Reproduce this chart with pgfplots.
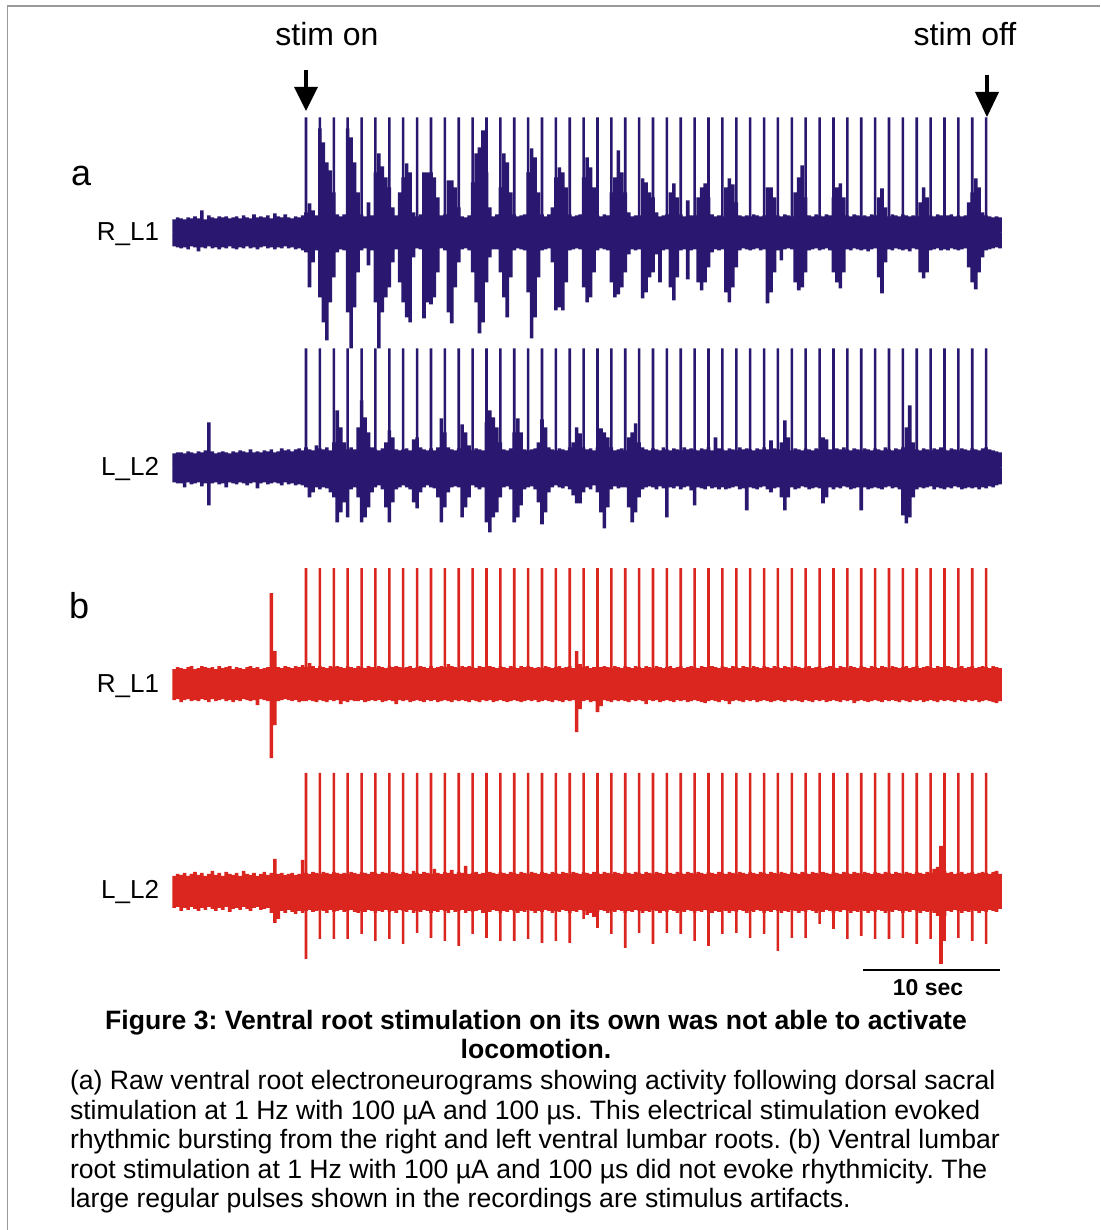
\documentclass[border=0pt]{standalone}
\usepackage{fontspec}
\setmainfont{Liberation Sans}
\usepackage{pgfplots}
\usepackage{pgfplotstable}
\pgfplotsset{compat=1.18}
\definecolor{navy}{RGB}{42,24,112}
\definecolor{rred}{RGB}{218,38,30}
\pgfplotsset{
 trace/.style={width=413.6pt,height=140pt,scale only axis,hide axis,clip=false,
   xmin=-9.6,xmax=50,ymin=-140,ymax=140,anchor=south west},
 env/.style={ybar,bar width=1.8pt,bar shift=0pt,draw=none,fill=#1},
 art/.style={ybar,bar width=1.3pt,bar shift=0pt,draw=none,fill=#1},
 core/.style={#1,line width=4pt},
}
% envelopes (max / min per 0.25 s bin, arbitrary units), t = -9.5 ... 50 s
\pgfplotstableread[row sep=\\]{u d\\
13 -14\\ 15 -15\\
14 -16\\ 13 -15\\ 15 -17\\ 14 -14\\
16 -15\\ 14 -19\\ 22 -15\\ 13 -16\\
17 -14\\ 15 -16\\ 14 -15\\ 16 -17\\
15 -15\\ 16 -16\\ 14 -14\\ 15 -16\\
16 -17\\ 14 -15\\ 17 -16\\ 15 -14\\
14 -16\\ 18 -15\\ 15 -17\\ 16 -15\\
15 -14\\ 17 -16\\ 14 -15\\ 19 -17\\
16 -15\\ 15 -16\\ 18 -14\\ 15 -16\\
14 -15\\ 16 -17\\ 15 -16\\ 17 -18\\
20 -20\\ 29 -55\\ 22 -30\\ 17 -18\\
104 -65\\ 90 -90\\ 70 -108\\ 62 -70\\
40 -45\\ 18 -20\\ 16 -17\\ 18 -18\\
104 -80\\ 95 -116\\ 70 -75\\ 40 -40\\
18 -18\\ 16 -16\\ 30 -33\\ 17 -18\\
60 -70\\ 79 -116\\ 66 -80\\ 55 -65\\
45 -55\\ 25 -30\\ 17 -17\\ 40 -50\\
55 -70\\ 69 -85\\ 60 -90\\ 20 -25\\
16 -16\\ 18 -17\\ 60 -86\\ 60 -70\\
60 -72\\ 55 -65\\ 35 -40\\ 17 -16\\
18 -18\\ 52 -80\\ 52 -91\\ 45 -55\\
25 -30\\ 16 -17\\ 15 -16\\ 17 -18\\
50 -40\\ 79 -70\\ 85 -101\\ 102 -90\\
60 -50\\ 25 -25\\ 16 -17\\ 18 -17\\
45 -40\\ 79 -65\\ 70 -85\\ 40 -45\\
18 -18\\ 16 -16\\ 17 -17\\ 18 -18\\
60 -60\\ 84 -106\\ 75 -85\\ 40 -45\\
18 -18\\ 16 -17\\ 18 -16\\ 25 -30\\
55 -78\\ 65 -75\\ 60 -78\\ 45 -50\\
18 -18\\ 16 -17\\ 17 -16\\ 18 -17\\
55 -55\\ 75 -70\\ 65 -65\\ 45 -40\\
17 -18\\ 16 -16\\ 18 -17\\ 17 -18\\
40 -50\\ 55 -65\\ 82 -62\\ 60 -55\\
40 -40\\ 20 -22\\ 16 -17\\ 17 -18\\
17 -17\\ 54 -66\\ 50 -60\\ 40 -45\\
35 -40\\ 20 -22\\ 16 -50\\ 17 -18\\
18 -17\\ 40 -55\\ 49 -68\\ 35 -45\\
18 -18\\ 16 -17\\ 32 -47\\ 17 -18\\
17 -17\\ 35 -50\\ 45 -58\\ 49 -50\\
35 -35\\ 18 -20\\ 16 -17\\ 17 -18\\
16 -17\\ 45 -60\\ 54 -70\\ 48 -55\\
30 -35\\ 17 -18\\ 16 -16\\ 17 -17\\
16 -18\\ 18 -17\\ 17 -16\\ 16 -18\\
17 -17\\ 45 -71\\ 45 -60\\ 35 -40\\
17 -18\\ 16 -28\\ 18 -17\\ 17 -16\\
16 -17\\ 40 -50\\ 55 -58\\ 67 -55\\
35 -40\\ 17 -18\\ 16 -17\\ 18 -16\\
17 -18\\ 16 -17\\ 18 -16\\ 17 -18\\
35 -40\\ 45 -50\\ 49 -56\\ 35 -40\\
17 -17\\ 16 -18\\ 18 -16\\ 17 -17\\
16 -18\\ 17 -17\\ 16 -19\\ 18 -17\\
17 -16\\ 35 -45\\ 44 -61\\ 25 -30\\
16 -17\\ 18 -18\\ 17 -16\\ 16 -17\\
18 -18\\ 17 -17\\ 16 -19\\ 17 -16\\
16 -17\\ 30 -40\\ 45 -46\\ 35 -40\\
17 -18\\ 16 -17\\ 18 -16\\ 17 -18\\
16 -17\\ 17 -18\\ 18 -16\\ 16 -17\\
17 -18\\ 16 -17\\ 17 -16\\ 30 -35\\
40 -50\\ 54 -57\\ 45 -40\\ 20 -25\\
17 -18\\ 16 -17\\ 15 -16\\ 16 -15\\
15 -16\\
}\tabaR
\pgfplotstableread[row sep=\\]{u d\\
14 -15\\ 15 -16\\
15 -16\\ 14 -20\\ 16 -15\\ 15 -17\\
14 -16\\ 16 -15\\ 15 -19\\ 17 -16\\
45 -38\\ 16 -16\\ 14 -15\\ 15 -17\\
16 -16\\ 15 -20\\ 14 -15\\ 16 -16\\
15 -17\\ 17 -15\\ 16 -16\\ 15 -18\\
18 -16\\ 15 -15\\ 16 -21\\ 15 -16\\
17 -15\\ 16 -17\\ 18 -16\\ 15 -15\\
16 -16\\ 19 -18\\ 17 -15\\ 18 -17\\
16 -16\\ 18 -18\\ 19 -17\\ 17 -18\\
20 -20\\ 18 -30\\ 17 -25\\ 22 -20\\
19 -22\\ 18 -20\\ 20 -21\\ 17 -25\\
25 -30\\ 57 -55\\ 40 -45\\ 25 -35\\
18 -50\\ 20 -22\\ 18 -20\\ 40 -30\\
67 -55\\ 50 -50\\ 35 -40\\ 20 -25\\
18 -20\\ 17 -18\\ 19 -22\\ 25 -40\\
37 -55\\ 30 -35\\ 18 -22\\ 17 -20\\
18 -18\\ 19 -20\\ 17 -22\\ 28 -35\\
30 -41\\ 20 -25\\ 18 -20\\ 17 -18\\
19 -20\\ 17 -21\\ 20 -30\\ 49 -55\\
35 -40\\ 20 -25\\ 18 -20\\ 17 -19\\
19 -20\\ 43 -50\\ 35 -40\\ 22 -30\\
17 -18\\ 19 -20\\ 18 -22\\ 17 -20\\
45 -55\\ 57 -65\\ 50 -50\\ 40 -45\\
25 -30\\ 18 -20\\ 17 -19\\ 19 -22\\
35 -55\\ 49 -50\\ 35 -38\\ 18 -22\\
17 -20\\ 18 -19\\ 19 -22\\ 25 -35\\
48 -57\\ 40 -45\\ 20 -25\\ 18 -20\\
17 -18\\ 19 -20\\ 18 -21\\ 17 -19\\
20 -22\\ 25 -28\\ 40 -36\\ 34 -36\\
20 -25\\ 18 -20\\ 19 -22\\ 17 -18\\
20 -25\\ 39 -45\\ 35 -61\\ 30 -40\\
20 -22\\ 17 -19\\ 18 -21\\ 19 -20\\
17 -20\\ 30 -40\\ 35 -55\\ 44 -45\\
25 -30\\ 20 -22\\ 18 -20\\ 17 -19\\
19 -20\\ 18 -22\\ 17 -19\\ 20 -21\\
18 -50\\ 17 -20\\ 19 -21\\ 18 -19\\
17 -22\\ 20 -20\\ 18 -19\\ 19 -23\\
18 -38\\ 17 -20\\ 19 -21\\ 18 -22\\
20 -19\\ 17 -21\\ 30 -20\\ 19 -22\\
18 -20\\ 17 -22\\ 19 -21\\ 18 -20\\
17 -19\\ 20 -22\\ 18 -21\\ 19 -43\\
18 -20\\ 17 -21\\ 19 -22\\ 18 -20\\
20 -19\\ 18 -22\\ 27 -25\\ 19 -21\\
18 -20\\ 25 -30\\ 47 -43\\ 30 -30\\
17 -20\\ 19 -22\\ 18 -21\\ 17 -19\\
19 -20\\ 18 -22\\ 17 -21\\ 19 -20\\
18 -21\\ 30 -36\\ 28 -30\\ 18 -20\\
17 -22\\ 19 -20\\ 18 -21\\ 20 -19\\
18 -20\\ 17 -22\\ 19 -21\\ 18 -20\\
17 -43\\ 19 -20\\ 18 -22\\ 17 -21\\
19 -20\\ 18 -21\\ 17 -22\\ 20 -20\\
18 -19\\ 17 -21\\ 19 -20\\ 18 -22\\
20 -48\\ 40 -56\\ 62 -50\\ 25 -30\\
18 -22\\ 17 -20\\ 19 -21\\ 18 -20\\
17 -19\\ 19 -22\\ 18 -20\\ 20 -21\\
18 -22\\ 17 -20\\ 19 -21\\ 18 -19\\
17 -20\\ 19 -22\\ 18 -21\\ 17 -20\\
19 -21\\ 18 -20\\ 17 -22\\ 19 -20\\
20 -21\\ 18 -19\\ 17 -20\\ 16 -18\\
15 -17\\
}\tabaL
\pgfplotstableread[row sep=\\]{u d\\
15 -16\\ 17 -15\\
16 -18\\ 15 -16\\ 17 -15\\ 18 -17\\
15 -16\\ 16 -17\\ 18 -15\\ 17 -16\\
16 -18\\ 17 -15\\ 15 -17\\ 18 -16\\
16 -15\\ 17 -17\\ 18 -16\\ 15 -18\\
17 -16\\ 16 -17\\ 15 -15\\ 17 -16\\
18 -17\\ 16 -16\\ 17 -21\\ 15 -15\\
16 -16\\ 17 -17\\ 91 -74\\ 33 -41\\
17 -17\\ 16 -16\\ 18 -15\\ 17 -16\\
16 -17\\ 18 -16\\ 17 -18\\ 19 -17\\
17 -17\\ 21 -16\\ 18 -17\\ 16 -18\\
18 -16\\ 17 -17\\ 16 -18\\ 18 -16\\
17 -17\\ 18 -16\\ 17 -20\\ 16 -17\\
18 -18\\ 17 -16\\ 16 -17\\ 18 -17\\
17 -16\\ 16 -18\\ 18 -17\\ 17 -16\\
16 -17\\ 18 -16\\ 17 -18\\ 16 -17\\
18 -16\\ 17 -17\\ 18 -20\\ 17 -16\\
16 -17\\ 17 -16\\ 18 -18\\ 16 -17\\
17 -16\\ 18 -17\\ 17 -18\\ 16 -16\\
18 -17\\ 16 -16\\ 17 -18\\ 18 -17\\
17 -16\\ 20 -17\\ 18 -18\\ 17 -16\\
16 -17\\ 18 -16\\ 17 -17\\ 18 -18\\
17 -16\\ 16 -17\\ 18 -18\\ 17 -16\\
16 -17\\ 18 -16\\ 17 -18\\ 16 -17\\
18 -16\\ 17 -17\\ 16 -18\\ 18 -17\\
17 -16\\ 16 -17\\ 18 -18\\ 17 -17\\
18 -16\\ 17 -17\\ 16 -16\\ 17 -18\\
16 -17\\ 18 -16\\ 17 -17\\ 16 -18\\
17 -16\\ 18 -17\\ 16 -18\\ 17 -16\\
18 -17\\ 16 -16\\ 33 -48\\ 20 -25\\
17 -17\\ 18 -16\\ 16 -18\\ 17 -17\\
16 -28\\ 17 -22\\ 18 -16\\ 17 -17\\
16 -18\\ 18 -16\\ 17 -17\\ 16 -16\\
18 -17\\ 17 -18\\ 16 -16\\ 18 -17\\
17 -16\\ 16 -17\\ 18 -20\\ 17 -16\\
16 -17\\ 18 -16\\ 17 -18\\ 16 -17\\
17 -16\\ 18 -17\\ 16 -18\\ 17 -16\\
18 -17\\ 16 -16\\ 17 -18\\ 18 -17\\
17 -16\\ 16 -17\\ 18 -18\\ 17 -19\\
16 -17\\ 18 -16\\ 17 -17\\ 16 -18\\
18 -16\\ 17 -17\\ 16 -20\\ 18 -17\\
17 -16\\ 16 -17\\ 18 -18\\ 17 -16\\
16 -17\\ 18 -16\\ 17 -18\\ 16 -17\\
18 -16\\ 17 -17\\ 16 -18\\ 18 -17\\
17 -16\\ 16 -17\\ 18 -18\\ 17 -16\\
16 -17\\ 18 -16\\ 17 -17\\ 16 -18\\
17 -16\\ 18 -17\\ 16 -18\\ 17 -16\\
18 -17\\ 16 -16\\ 17 -18\\ 18 -17\\
17 -16\\ 16 -17\\ 18 -18\\ 17 -16\\
16 -17\\ 18 -16\\ 17 -19\\ 16 -17\\
18 -16\\ 17 -17\\ 16 -18\\ 18 -17\\
17 -16\\ 16 -17\\ 18 -18\\ 17 -16\\
16 -17\\ 18 -16\\ 17 -17\\ 16 -18\\
17 -16\\ 18 -17\\ 16 -18\\ 17 -16\\
18 -17\\ 16 -16\\ 17 -18\\ 18 -17\\
17 -16\\ 16 -17\\ 18 -18\\ 17 -16\\
16 -17\\ 18 -16\\ 17 -17\\ 16 -18\\
17 -16\\ 18 -17\\ 16 -18\\ 17 -16\\
18 -17\\ 16 -16\\ 17 -18\\ 18 -17\\
17 -16\\ 16 -17\\ 18 -18\\ 17 -19\\
16 -17\\
}\tabbR
\pgfplotstableread[row sep=\\]{u d\\
15 -17\\ 17 -16\\
16 -20\\ 18 -17\\ 15 -19\\ 17 -16\\
19 -18\\ 16 -20\\ 18 -17\\ 15 -19\\
17 -16\\ 20 -18\\ 16 -20\\ 18 -17\\
15 -19\\ 19 -16\\ 17 -21\\ 16 -18\\
18 -17\\ 15 -19\\ 20 -16\\ 17 -18\\
16 -20\\ 18 -17\\ 15 -16\\ 17 -19\\
19 -18\\ 16 -17\\ 18 -22\\ 32 -32\\
17 -28\\ 18 -20\\ 16 -22\\ 17 -19\\
18 -21\\ 16 -23\\ 17 -20\\ 31 -22\\
18 -20\\ 17 -19\\ 19 -21\\ 18 -20\\
17 -19\\ 19 -20\\ 18 -22\\ 17 -19\\
19 -21\\ 18 -20\\ 17 -19\\ 18 -21\\
17 -20\\ 19 -19\\ 18 -21\\ 17 -22\\
19 -20\\ 18 -21\\ 17 -19\\ 19 -20\\
18 -22\\ 17 -20\\ 19 -21\\ 18 -19\\
17 -21\\ 19 -20\\ 18 -22\\ 17 -19\\
19 -20\\ 18 -21\\ 17 -19\\ 20 -22\\
18 -20\\ 17 -21\\ 19 -19\\ 18 -20\\
17 -22\\ 22 -20\\ 18 -21\\ 17 -19\\
19 -20\\ 18 -22\\ 21 -19\\ 17 -21\\
19 -20\\ 18 -19\\ 25 -22\\ 17 -20\\
18 -21\\ 19 -20\\ 17 -19\\ 18 -22\\
17 -20\\ 19 -21\\ 18 -19\\ 17 -20\\
19 -22\\ 18 -20\\ 17 -21\\ 19 -19\\
18 -20\\ 17 -22\\ 19 -20\\ 18 -21\\
17 -19\\ 19 -20\\ 18 -22\\ 17 -20\\
19 -21\\ 18 -19\\ 17 -20\\ 19 -22\\
18 -20\\ 17 -21\\ 19 -19\\ 18 -20\\
17 -22\\ 19 -20\\ 18 -21\\ 17 -19\\
19 -20\\ 18 -24\\ 17 -22\\ 19 -26\\
18 -21\\ 17 -19\\ 19 -20\\ 18 -22\\
17 -20\\ 19 -21\\ 18 -19\\ 17 -20\\
19 -22\\ 18 -20\\ 17 -21\\ 19 -19\\
18 -20\\ 17 -22\\ 19 -20\\ 18 -21\\
17 -19\\ 19 -20\\ 18 -22\\ 17 -20\\
19 -21\\ 18 -19\\ 17 -20\\ 19 -22\\
18 -20\\ 17 -21\\ 19 -19\\ 18 -20\\
17 -22\\ 19 -20\\ 18 -21\\ 17 -19\\
19 -20\\ 18 -22\\ 17 -20\\ 19 -21\\
18 -19\\ 17 -20\\ 19 -22\\ 18 -20\\
17 -21\\ 19 -19\\ 18 -20\\ 17 -22\\
19 -20\\ 18 -21\\ 17 -19\\ 19 -20\\
18 -22\\ 17 -20\\ 19 -21\\ 18 -19\\
17 -20\\ 19 -22\\ 18 -20\\ 17 -21\\
19 -19\\ 18 -20\\ 17 -22\\ 19 -20\\
18 -21\\ 17 -19\\ 19 -20\\ 18 -22\\
17 -20\\ 19 -21\\ 18 -19\\ 17 -20\\
19 -22\\ 18 -20\\ 17 -21\\ 19 -19\\
18 -20\\ 17 -22\\ 19 -20\\ 18 -21\\
17 -19\\ 19 -20\\ 18 -22\\ 17 -20\\
19 -21\\ 18 -19\\ 17 -20\\ 19 -22\\
18 -20\\ 17 -21\\ 19 -19\\ 18 -20\\
17 -22\\ 19 -20\\ 18 -21\\ 17 -19\\
19 -20\\ 18 -22\\ 17 -20\\ 19 -21\\
18 -20\\ 22 -22\\ 24 -25\\ 45 -73\\
20 -25\\ 18 -20\\ 19 -21\\ 17 -19\\
18 -20\\ 19 -22\\ 17 -20\\ 18 -21\\
19 -19\\ 17 -20\\ 18 -22\\ 19 -20\\
18 -21\\ 17 -19\\ 19 -20\\ 20 -21\\
17 -18\\
}\tabbL
% stimulus artifacts (1 Hz): peak heights per trace, and negative part in b L_L2
\pgfplotstableread[row sep=\\]{t aR aL bR bL bLn\\
0 115 119 116 118 -68\\ 1 115 119 116 118 -48\\ 2 115 119 116 118 -48\\
3 115 119 116 118 -48\\ 4 115 119 116 118 -43\\ 5 115 119 116 118 -50\\
6 115 119 116 118 -48\\ 7 115 119 116 118 -53\\ 8 115 119 116 118 -42\\
9 115 119 116 118 -47\\ 10 115 119 116 118 -50\\ 11 115 119 116 118 -55\\
12 115 119 116 118 -43\\ 13 115 119 116 118 -47\\ 14 115 119 116 118 -50\\
15 115 119 116 118 -50\\ 16 115 119 116 118 -48\\ 17 115 119 116 118 -52\\
18 115 119 116 118 -50\\ 19 115 119 116 118 -52\\ 20 115 119 116 118 -28\\
21 115 119 116 118 -37\\ 22 115 119 116 118 -43\\ 23 115 119 116 118 -57\\
24 115 119 116 118 -42\\ 25 115 119 116 118 -53\\ 26 115 119 116 118 -42\\
27 115 119 116 118 -43\\ 28 115 119 116 118 -50\\ 29 115 119 116 118 -55\\
30 115 119 116 118 -43\\ 31 115 119 116 118 -42\\ 32 115 119 116 118 -47\\
33 115 119 116 118 -43\\ 34 115 119 116 118 -60\\ 35 115 119 116 118 -47\\
36 115 119 116 118 -47\\ 37 115 119 116 118 -33\\ 38 115 119 116 118 -38\\
39 115 119 116 118 -48\\ 40 115 119 116 118 -45\\ 41 115 119 116 118 -48\\
42 115 119 116 118 -48\\ 43 115 119 116 118 -47\\ 44 115 119 116 118 -53\\
45 115 119 116 118 -48\\ 46 115 119 116 118 -50\\ 47 115 119 116 118 -47\\
48 115 119 116 118 -50\\ 49 115 119 116 118 -53\\
}\tabart
\frenchspacing
\begin{document}
\begin{tikzpicture}[x=0.5pt,y=0.5pt,every node/.append style={inner sep=0pt,outer sep=0pt}]
\useasboundingbox (0,0) rectangle (1100,1230);
\fill[white] (0,0) rectangle (1100,1230);
\draw[black!40, line width=0.6pt] (7.5,0) -- (7.5,1224) -- (1100,1224);
% a R_L1
\begin{axis}[trace,at={(86.4pt,428.75pt)}]
\addplot[core=navy] coordinates {(-9.56,0) (50.06,0)};
\addplot[env=navy] table[x expr=\coordindex*0.25-9.5,y=u]{\tabaR};
\addplot[env=navy] table[x expr=\coordindex*0.25-9.5,y=d]{\tabaR};
\addplot[art=navy] table[x=t,y=aR]{\tabart};
\end{axis}
% a L_L2
\begin{axis}[trace,at={(86.4pt,311.35pt)}]
\addplot[core=navy] coordinates {(-9.56,0) (50.06,0)};
\addplot[env=navy] table[x expr=\coordindex*0.25-9.5,y=u]{\tabaL};
\addplot[env=navy] table[x expr=\coordindex*0.25-9.5,y=d]{\tabaL};
\addplot[art=navy] table[x=t,y=aL]{\tabart};
\end{axis}
% b R_L1
\begin{axis}[trace,at={(86.4pt,202.9pt)}]
\addplot[core=rred] coordinates {(-9.56,0) (50.06,0)};
\addplot[env=rred] table[x expr=\coordindex*0.25-9.5,y=u]{\tabbR};
\addplot[env=rred] table[x expr=\coordindex*0.25-9.5,y=d]{\tabbR};
\addplot[art=rred] table[x=t,y=bR]{\tabart};
\end{axis}
% b L_L2
\begin{axis}[trace,at={(86.4pt,99.6pt)}]
\addplot[core=rred] coordinates {(-9.56,0) (50.06,0)};
\addplot[env=rred] table[x expr=\coordindex*0.25-9.5,y=u]{\tabbL};
\addplot[env=rred] table[x expr=\coordindex*0.25-9.5,y=d]{\tabbL};
\addplot[art=rred] table[x=t,y=bL]{\tabart};
\addplot[art=rred] table[x=t,y=bLn]{\tabart};
\addplot[black,line width=1pt] coordinates {(40.1,-79) (50,-79)};
\end{axis}
% annotations
\node[anchor=base,font=\fontsize{16}{18}\selectfont] at (327,1184) {stim on};
\node[anchor=base,font=\fontsize{16}{18}\selectfont] at (965,1184) {stim off};
\draw[line width=1.6pt] (306,1160) -- (306,1140);
\fill (294,1143) -- (318,1143) -- (306,1119) -- cycle;
\draw[line width=1.6pt] (987,1155) -- (987,1135);
\fill (975,1138) -- (999,1138) -- (987,1113) -- cycle;
\node[anchor=base west,font=\fontsize{18}{20}\selectfont] at (71,1044) {a};
\node[anchor=base west,font=\fontsize{18}{20}\selectfont] at (69,611) {b};
\node[anchor=base east,font=\fontsize{13}{15}\selectfont] at (159,989) {R\_L1};
\node[anchor=base east,font=\fontsize{13}{15}\selectfont] at (159,754) {L\_L2};
\node[anchor=base east,font=\fontsize{13}{15}\selectfont] at (159,537) {R\_L1};
\node[anchor=base east,font=\fontsize{13}{15}\selectfont] at (159,331) {L\_L2};
\node[anchor=base,font=\fontsize{11.5}{13}\selectfont\bfseries] at (928,234) {10 sec};
% caption
\node[anchor=base,font=\fontsize{13.3}{15}\selectfont\bfseries] at (536,200) {Figure 3: Ventral root stimulation on its own was not able to activate};
\node[anchor=base,font=\fontsize{13.3}{15}\selectfont\bfseries] at (536,171) {locomotion.};
\node[anchor=base west,font=\fontsize{13.3}{15}\selectfont] at (70,140) {(a) Raw ventral root electroneurograms showing activity following dorsal sacral};
\node[anchor=base west,font=\fontsize{13.3}{15}\selectfont] at (70,110.5) {stimulation at 1 Hz with 100 µA and 100 µs. This electrical stimulation evoked};
\node[anchor=base west,font=\fontsize{13.3}{15}\selectfont] at (70,81) {rhythmic bursting from the right and left ventral lumbar roots. (b) Ventral lumbar};
\node[anchor=base west,font=\fontsize{13.3}{15}\selectfont] at (70,51.5) {root stimulation at 1 Hz with 100 µA and 100 µs did not evoke rhythmicity. The};
\node[anchor=base west,font=\fontsize{13.3}{15}\selectfont] at (70,22) {large regular pulses shown in the recordings are stimulus artifacts.};
\end{tikzpicture}
\end{document}
